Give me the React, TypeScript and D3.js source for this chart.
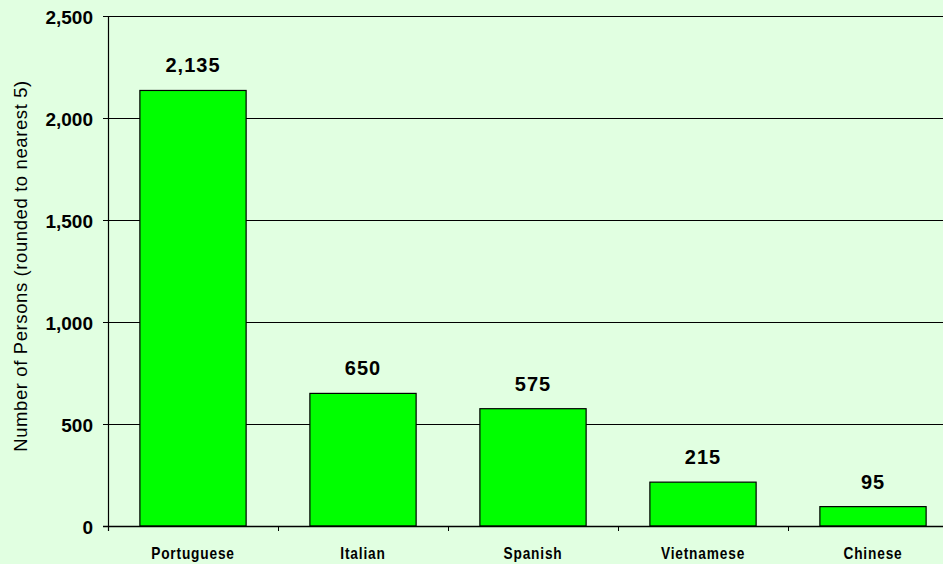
import React from "react";
import * as d3 from "d3";

const categories = ["Portuguese", "Italian", "Spanish", "Vietnamese", "Chinese"];
const values = [2135, 650, 575, 215, 95];
const yTicks = [0, 500, 1000, 1500, 2000, 2500];
const yTitle = "Number of Persons (rounded to nearest 5)";

const W = 943;
const H = 564;
const left = 108;
const right = 958;
const top = 16;
const bottom = 526;

export default function App() {
  const x = d3.scaleBand<string>().domain(categories).range([left, right]).paddingInner(0.375).paddingOuter(0.1875);
  const xb = d3.scaleBand<string>().domain(categories).range([left, right]);
  const y = d3.scaleLinear().domain([0, 2500]).range([bottom, top]);
  const fmt = d3.format(",");
  return (
    <svg width={W} height={H} style={{ position: "fixed", left: 0, top: 0, display: "block" }}>
      <rect x={0} y={0} width={W} height={H} fill="#E1FFE1" />
      {yTicks.map((t) => (
        <g key={t}>
          <line x1={left - 5} x2={W} y1={Math.round(y(t)) + 0.5} y2={Math.round(y(t)) + 0.5} stroke="#000" strokeWidth={1} />
          <text x={93} y={y(t) + 8} textAnchor="end" fontFamily="Liberation Sans, Arial, sans-serif" fontWeight="bold" fontSize={19} fill="#000">
            {fmt(t)}
          </text>
        </g>
      ))}
      {categories.map((c, i) => {
        const cx = (xb(c) as number) + xb.bandwidth() / 2;
        return (
          <g key={c}>
            <rect x={x(c)} y={y(values[i])} width={x.bandwidth()} height={bottom - y(values[i])} fill="#00FF00" stroke="#000" strokeWidth={1.2} />
            <text x={(x(c) as number) + x.bandwidth() / 2} y={y(values[i]) - 18} textAnchor="middle" fontFamily="Liberation Sans, Arial, sans-serif" fontWeight="bold" fontSize={20} letterSpacing={1} fill="#000">
              {fmt(values[i])}
            </text>
            <text transform={`translate(${cx},558.5) scale(0.83,1)`} textAnchor="middle" fontFamily="Liberation Sans, Arial, sans-serif" fontWeight="bold" fontSize={16.5} letterSpacing={1} fill="#000">
              {c}
            </text>
          </g>
        );
      })}
      {categories.map((c) => (
        <line key={"t" + c} x1={Math.round(xb(c) as number) + 0.5} x2={Math.round(xb(c) as number) + 0.5} y1={bottom} y2={bottom + 5} stroke="#000" />
      ))}
      <line x1={left + 0.5} x2={left + 0.5} y1={top} y2={bottom + 5} stroke="#000" strokeWidth={1.2} />
      <line x1={left - 5} x2={W} y1={bottom + 0.5} y2={bottom + 0.5} stroke="#000" strokeWidth={1.5} />
      <text transform={`translate(27,266) rotate(-90)`} textAnchor="middle" fontFamily="Liberation Sans, Arial, sans-serif" fontSize={18.5} letterSpacing={0.6} fill="#000">
        {yTitle}
      </text>
    </svg>
  );
}
